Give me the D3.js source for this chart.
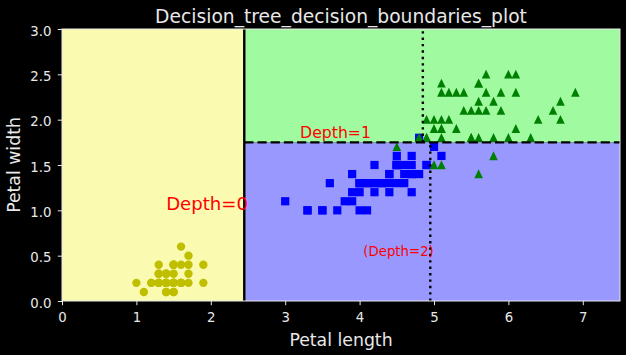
<!DOCTYPE html>
<html>
<head>
<meta charset="utf-8">
<script src="https://cdn.jsdelivr.net/npm/d3@7"></script>
<style>
  html, body { margin: 0; padding: 0; background: #000; }
  svg { display: block; }
  text { font-family: "DejaVu Sans", sans-serif; }
</style>
</head>
<body>
<svg id="chart" width="626" height="355"></svg>
<script>
// ---- data (iris petal length / petal width) ----
const setosa = [[1.4,0.2],[1.4,0.2],[1.3,0.2],[1.5,0.2],[1.4,0.2],[1.7,0.4],[1.4,0.3],[1.5,0.2],[1.4,0.2],[1.5,0.1],
  [1.5,0.2],[1.6,0.2],[1.4,0.1],[1.1,0.1],[1.2,0.2],[1.5,0.4],[1.3,0.4],[1.4,0.3],[1.7,0.3],[1.5,0.3],
  [1.7,0.2],[1.5,0.4],[1.0,0.2],[1.7,0.5],[1.9,0.2],[1.6,0.2],[1.6,0.4],[1.5,0.2],[1.4,0.2],[1.6,0.2],
  [1.6,0.2],[1.5,0.4],[1.5,0.1],[1.4,0.2],[1.5,0.2],[1.2,0.2],[1.3,0.2],[1.4,0.1],[1.3,0.2],[1.5,0.2],
  [1.3,0.3],[1.3,0.3],[1.3,0.2],[1.6,0.6],[1.9,0.4],[1.4,0.3],[1.6,0.2],[1.4,0.2],[1.5,0.2],[1.4,0.2]];
const versicolor = [[4.7,1.4],[4.5,1.5],[4.9,1.5],[4.0,1.3],[4.6,1.5],[4.5,1.3],[4.7,1.6],[3.3,1.0],[4.6,1.3],[3.9,1.4],
  [3.5,1.0],[4.2,1.5],[4.0,1.0],[4.7,1.4],[3.6,1.3],[4.4,1.4],[4.5,1.5],[4.1,1.0],[4.5,1.5],[3.9,1.1],
  [4.8,1.8],[4.0,1.3],[4.9,1.5],[4.7,1.2],[4.3,1.3],[4.4,1.4],[4.8,1.4],[5.0,1.7],[4.5,1.5],[3.5,1.0],
  [3.8,1.1],[3.7,1.0],[3.9,1.2],[5.1,1.6],[4.5,1.5],[4.5,1.6],[4.7,1.5],[4.4,1.3],[4.1,1.3],[4.0,1.3],
  [4.4,1.2],[4.6,1.4],[4.0,1.2],[3.3,1.0],[4.2,1.3],[4.2,1.2],[4.2,1.3],[4.3,1.3],[3.0,1.1],[4.1,1.3]];
const virginica = [[6.0,2.5],[5.1,1.9],[5.9,2.1],[5.6,1.8],[5.8,2.2],[6.6,2.1],[4.5,1.7],[6.3,1.8],[5.8,1.8],[6.1,2.5],
  [5.1,2.0],[5.3,1.9],[5.5,2.1],[5.0,2.0],[5.1,2.4],[5.3,2.3],[5.5,1.8],[6.7,2.2],[6.9,2.3],[5.0,1.5],
  [5.7,2.3],[4.9,2.0],[6.7,2.0],[4.9,1.8],[5.7,2.1],[6.0,1.8],[4.8,1.8],[4.9,1.8],[5.6,2.1],[5.8,1.6],
  [6.1,1.9],[6.4,2.0],[5.6,2.2],[5.1,1.5],[5.6,1.4],[6.1,2.3],[5.6,2.4],[5.5,1.8],[4.8,1.8],[5.4,2.1],
  [5.6,2.4],[5.1,2.3],[5.1,1.9],[5.9,2.3],[5.7,2.5],[5.2,2.3],[5.0,1.9],[5.2,2.0],[5.4,2.3],[5.1,1.8]];

const xDomain = [0, 7.5];
const yDomain = [0, 3];
const xTicks = [0, 1, 2, 3, 4, 5, 6, 7];
const yTicks = [0.0, 0.5, 1.0, 1.5, 2.0, 2.5, 3.0];

// predicted regions of the tree: [x0, x1, y0, y1, class]
const regions = [
  [0, 2.45, 0, 3, "setosa"],
  [2.45, 7.5, 0, 1.75, "versicolor"],
  [2.45, 7.5, 1.75, 3, "virginica"]
];
// split lines: [x0, y0, x1, y1, kind]
const splits = [
  [2.45, 0, 2.45, 3, "solid"],
  [2.45, 1.75, 7.5, 1.75, "dashed"],
  [4.95, 0, 4.95, 1.75, "dotted"],
  [4.85, 1.75, 4.85, 3, "dotted"]
];
const depthLabels = [
  [1.40, 1.0, "Depth=0", "d0"],
  [3.2, 1.80, "Depth=1", "d1"],
  [4.05, 0.5, "(Depth=2)", "d2"]
];
const titleText = "Decision_tree_decision_boundaries_plot";
const xLabel = "Petal length";
const yLabel = "Petal width";

// ---- styles ----
const regionColor = { setosa: "#fafab0", versicolor: "#9898ff", virginica: "#a0faa0" };
const labelSize = { d0: 18.1, d1: 15.7, d2: 13.3 };
const dashes = { solid: null, dashed: "9.2,4", dotted: "2.4,4" };
const fg = "#e8e8e8";

const svg = d3.select("#chart");
const margin = { left: 62, right: 6, top: 29, bottom: 54 };
const W = 626, H = 355;
const x = d3.scaleLinear().domain(xDomain).range([margin.left, W - margin.right]);
const y = d3.scaleLinear().domain(yDomain).range([H - margin.bottom, margin.top]);

svg.append("rect").attr("width", W).attr("height", H).attr("fill", "#000");

svg.append("defs").append("clipPath").attr("id", "clip")
  .append("rect").attr("x", x(xDomain[0])).attr("y", y(yDomain[1]))
  .attr("width", x(xDomain[1]) - x(xDomain[0])).attr("height", y(yDomain[0]) - y(yDomain[1]));

const plot = svg.append("g").attr("clip-path", "url(#clip)");

plot.selectAll("rect.region").data(regions).join("rect")
  .attr("class", "region")
  .attr("x", d => x(d[0])).attr("y", d => y(d[3]))
  .attr("width", d => x(d[1]) - x(d[0])).attr("height", d => y(d[2]) - y(d[3]))
  .attr("fill", d => regionColor[d[4]]);

// setosa: yellow circles
plot.selectAll("circle.setosa").data(setosa).join("circle")
  .attr("class", "setosa")
  .attr("cx", d => x(d[0])).attr("cy", d => y(d[1])).attr("r", 4.2)
  .attr("fill", "#bfbf00");

// versicolor: blue squares
const sq = 8.2;
plot.selectAll("rect.versicolor").data(versicolor).join("rect")
  .attr("class", "versicolor")
  .attr("x", d => x(d[0]) - sq / 2).attr("y", d => y(d[1]) - sq / 2)
  .attr("width", sq).attr("height", sq)
  .attr("fill", "#0000ff");

// virginica: green triangles
plot.selectAll("path.virginica").data(virginica).join("path")
  .attr("class", "virginica")
  .attr("transform", d => `translate(${x(d[0])},${y(d[1])})`)
  .attr("d", "M0,-4.7L4.3,4.2L-4.3,4.2Z")
  .attr("fill", "#008000");

// split lines
plot.selectAll("line.split").data(splits).join("line")
  .attr("class", "split")
  .attr("x1", d => x(d[0])).attr("y1", d => y(d[1]))
  .attr("x2", d => x(d[2])).attr("y2", d => y(d[3]))
  .attr("stroke", "#000").attr("stroke-width", 2.4)
  .attr("stroke-dasharray", d => dashes[d[4]]);

// depth labels
svg.selectAll("text.depth").data(depthLabels).join("text")
  .attr("class", "depth")
  .attr("x", d => x(d[0])).attr("y", d => y(d[1]))
  .attr("font-size", d => labelSize[d[3]])
  .attr("fill", "#ff0000")
  .text(d => d[2]);

// frame
svg.append("rect")
  .attr("x", x(xDomain[0])).attr("y", y(yDomain[1]))
  .attr("width", x(xDomain[1]) - x(xDomain[0])).attr("height", y(yDomain[0]) - y(yDomain[1]))
  .attr("fill", "none").attr("stroke", fg).attr("stroke-width", 1);

// axes
const xAxis = d3.axisBottom(x).tickValues(xTicks).tickFormat(d3.format("d")).tickSize(4.2).tickPadding(7.5);
const yAxis = d3.axisLeft(y).tickValues(yTicks).tickFormat(d3.format(".1f")).tickSize(4.2).tickPadding(6.3);

const gx = svg.append("g").attr("transform", `translate(0,${y(yDomain[0])})`).call(xAxis);
const gy = svg.append("g").attr("transform", `translate(${x(xDomain[0])},0)`).call(yAxis);
[gx, gy].forEach(g => {
  g.select(".domain").remove();
  g.selectAll(".tick line").attr("stroke", fg).attr("stroke-width", 1);
  g.selectAll(".tick text").attr("fill", fg).attr("font-size", 13.3)
    .attr("font-family", "DejaVu Sans, sans-serif");
});
gy.selectAll(".tick text").attr("dy", "0.45em");

// title and axis labels
svg.append("text").attr("x", (x(xDomain[0]) + x(xDomain[1])) / 2).attr("y", 22.5)
  .attr("text-anchor", "middle").attr("font-size", 18.7).attr("fill", fg).text(titleText);
svg.append("text").attr("x", (x(xDomain[0]) + x(xDomain[1])) / 2).attr("y", 346)
  .attr("text-anchor", "middle").attr("font-size", 17.3).attr("fill", fg).text(xLabel);
svg.append("text")
  .attr("transform", `translate(20,${(y(yDomain[0]) + y(yDomain[1])) / 2}) rotate(-90)`)
  .attr("text-anchor", "middle").attr("font-size", 17.3).attr("fill", fg).text(yLabel);
</script>
</body>
</html>
